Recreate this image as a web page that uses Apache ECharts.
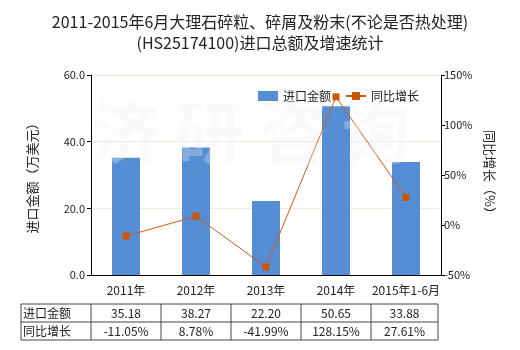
<!DOCTYPE html>
<html><head><meta charset="utf-8">
<script src="https://cdn.jsdelivr.net/npm/echarts@6/dist/echarts.min.js"></script>
<style>html,body{margin:0;padding:0;background:#fff}#c{width:520px;height:350px}</style>
</head><body><div id="c"></div>
<script>
var categories = ['2011年','2012年','2013年','2014年','2015年1-6月'];
var importValues = [35.18, 38.27, 22.20, 50.65, 33.88];
var growthValues = [-11.05, 8.78, -41.99, 128.15, 27.61];
var seriesNames = ['进口金额','同比增长'];
var titleText = '2011-2015年6月大理石碎粒、碎屑及粉末(不论是否热处理)\n(HS25174100)进口总额及增速统计';
var leftAxisName = '进口金额（万美元）';
var rightAxisName = '同比增长（%）';

var FONT = '"Noto Sans CJK SC", "Noto Sans", sans-serif';
var chart = echarts.init(document.getElementById('c'));
var option = {
  animation: false,
  backgroundColor: '#fff',
  textStyle: {fontFamily: FONT},
  title: {
    text: titleText, left: 'center', top: 6,
    textStyle: {fontFamily: FONT, fontSize: 16, fontWeight: 'normal', color: '#222', lineHeight: 21}
  },
  legend: {
    top: 85, left: 253, itemWidth: 20, itemHeight: 10, itemGap: 14,
    textStyle: {fontFamily: FONT, fontSize: 12, color: '#222'},
    data: [{name: seriesNames[0], icon: 'rect'}, {name: seriesNames[1]}]
  },
  grid: {left: 91, right: 79, top: 75, bottom: 75},
  xAxis: {
    type: 'category', data: categories, boundaryGap: true,
    axisLine: {lineStyle: {color: '#000'}},
    axisTick: {alignWithLabel: true, length: 4, lineStyle: {color: '#000'}},
    axisLabel: {interval: 0, fontFamily: FONT, fontSize: 12, color: '#222', margin: 9}
  },
  yAxis: [{
    type: 'value', min: 0, max: 60, interval: 20,
    name: leftAxisName, nameLocation: 'middle', nameGap: 52, nameRotate: 90,
    nameTextStyle: {fontFamily: FONT, fontSize: 13, color: '#222'},
    axisLine: {show: true, lineStyle: {color: '#000'}},
    axisTick: {show: true, length: 4, lineStyle: {color: '#000'}},
    axisLabel: {fontSize: 11, color: '#222', margin: 6, formatter: function(v){return v.toFixed(1);}},
    splitLine: {show: true, lineStyle: {color: '#f1ecdc'}}
  }, {
    type: 'value', min: -50, max: 150, interval: 50,
    name: rightAxisName, nameLocation: 'middle', nameGap: 42, nameRotate: -90,
    nameTextStyle: {fontFamily: FONT, fontSize: 13, color: '#222'},
    axisLine: {show: true, lineStyle: {color: '#000'}},
    axisTick: {show: true, length: 4, lineStyle: {color: '#000'}},
    axisLabel: {fontSize: 11, color: '#222', margin: 3, formatter: '{value}%'},
    splitLine: {show: false}
  }],
  series: [{
    name: seriesNames[0], type: 'bar', data: importValues, barWidth: 28,
    itemStyle: {color: '#558ed5'}, z: 2
  }, {
    name: seriesNames[1], type: 'line', yAxisIndex: 1, data: growthValues,
    symbol: 'rect', symbolSize: 7,
    lineStyle: {color: '#d55a14', width: 1},
    itemStyle: {color: '#cc5500'}, z: 3
  }]
};
chart.setOption(option);

// watermark + table built from arrays
var graphics = [];
graphics.push({
  type: 'text', left: 92, top: 98, z: 10, silent: true,
  style: {text: '济 研 咨 询', font: 'bold 68px ' + FONT, fill: 'rgba(240,240,240,0.3)'}
});
var x0 = 21;
var colW = chart.convertToPixel({xAxisIndex: 0}, categories[1]) - chart.convertToPixel({xAxisIndex: 0}, categories[0]);
var firstEdge = chart.convertToPixel({xAxisIndex: 0}, categories[0]) - colW / 2;
var edges = [x0, firstEdge];
for (var i = 1; i <= categories.length; i++) edges.push(firstEdge + colW * i);
edges[edges.length - 1] -= 3;
var yTop = 304, rowH = 18;
var rows = [
  [seriesNames[0]].concat(importValues.map(function(v){return v.toFixed(2);})),
  [seriesNames[1]].concat(growthValues.map(function(v){return v.toFixed(2) + '%';}))
];
var lc = '#444';
for (var r = 0; r <= rows.length; r++) {
  graphics.push({type: 'line', shape: {x1: edges[0], y1: yTop + r * rowH, x2: edges[edges.length-1], y2: yTop + r * rowH}, style: {stroke: lc, lineWidth: 1}});
}
for (var e = 0; e < edges.length; e++) {
  graphics.push({type: 'line', shape: {x1: edges[e], y1: yTop, x2: edges[e], y2: yTop + rows.length * rowH}, style: {stroke: lc, lineWidth: 1}});
}
rows.forEach(function(row, ri) {
  row.forEach(function(txt, ci) {
    var isHead = ci === 0;
    graphics.push({
      type: 'text',
      x: isHead ? edges[0] + 2 : (edges[ci] + edges[ci+1]) / 2,
      y: yTop + ri * rowH + rowH / 2,
      style: {text: txt, font: '12px ' + FONT, fill: '#222', textAlign: isHead ? 'left' : 'center', textVerticalAlign: 'middle'}
    });
  });
});
chart.setOption({graphic: graphics});
</script></body></html>
